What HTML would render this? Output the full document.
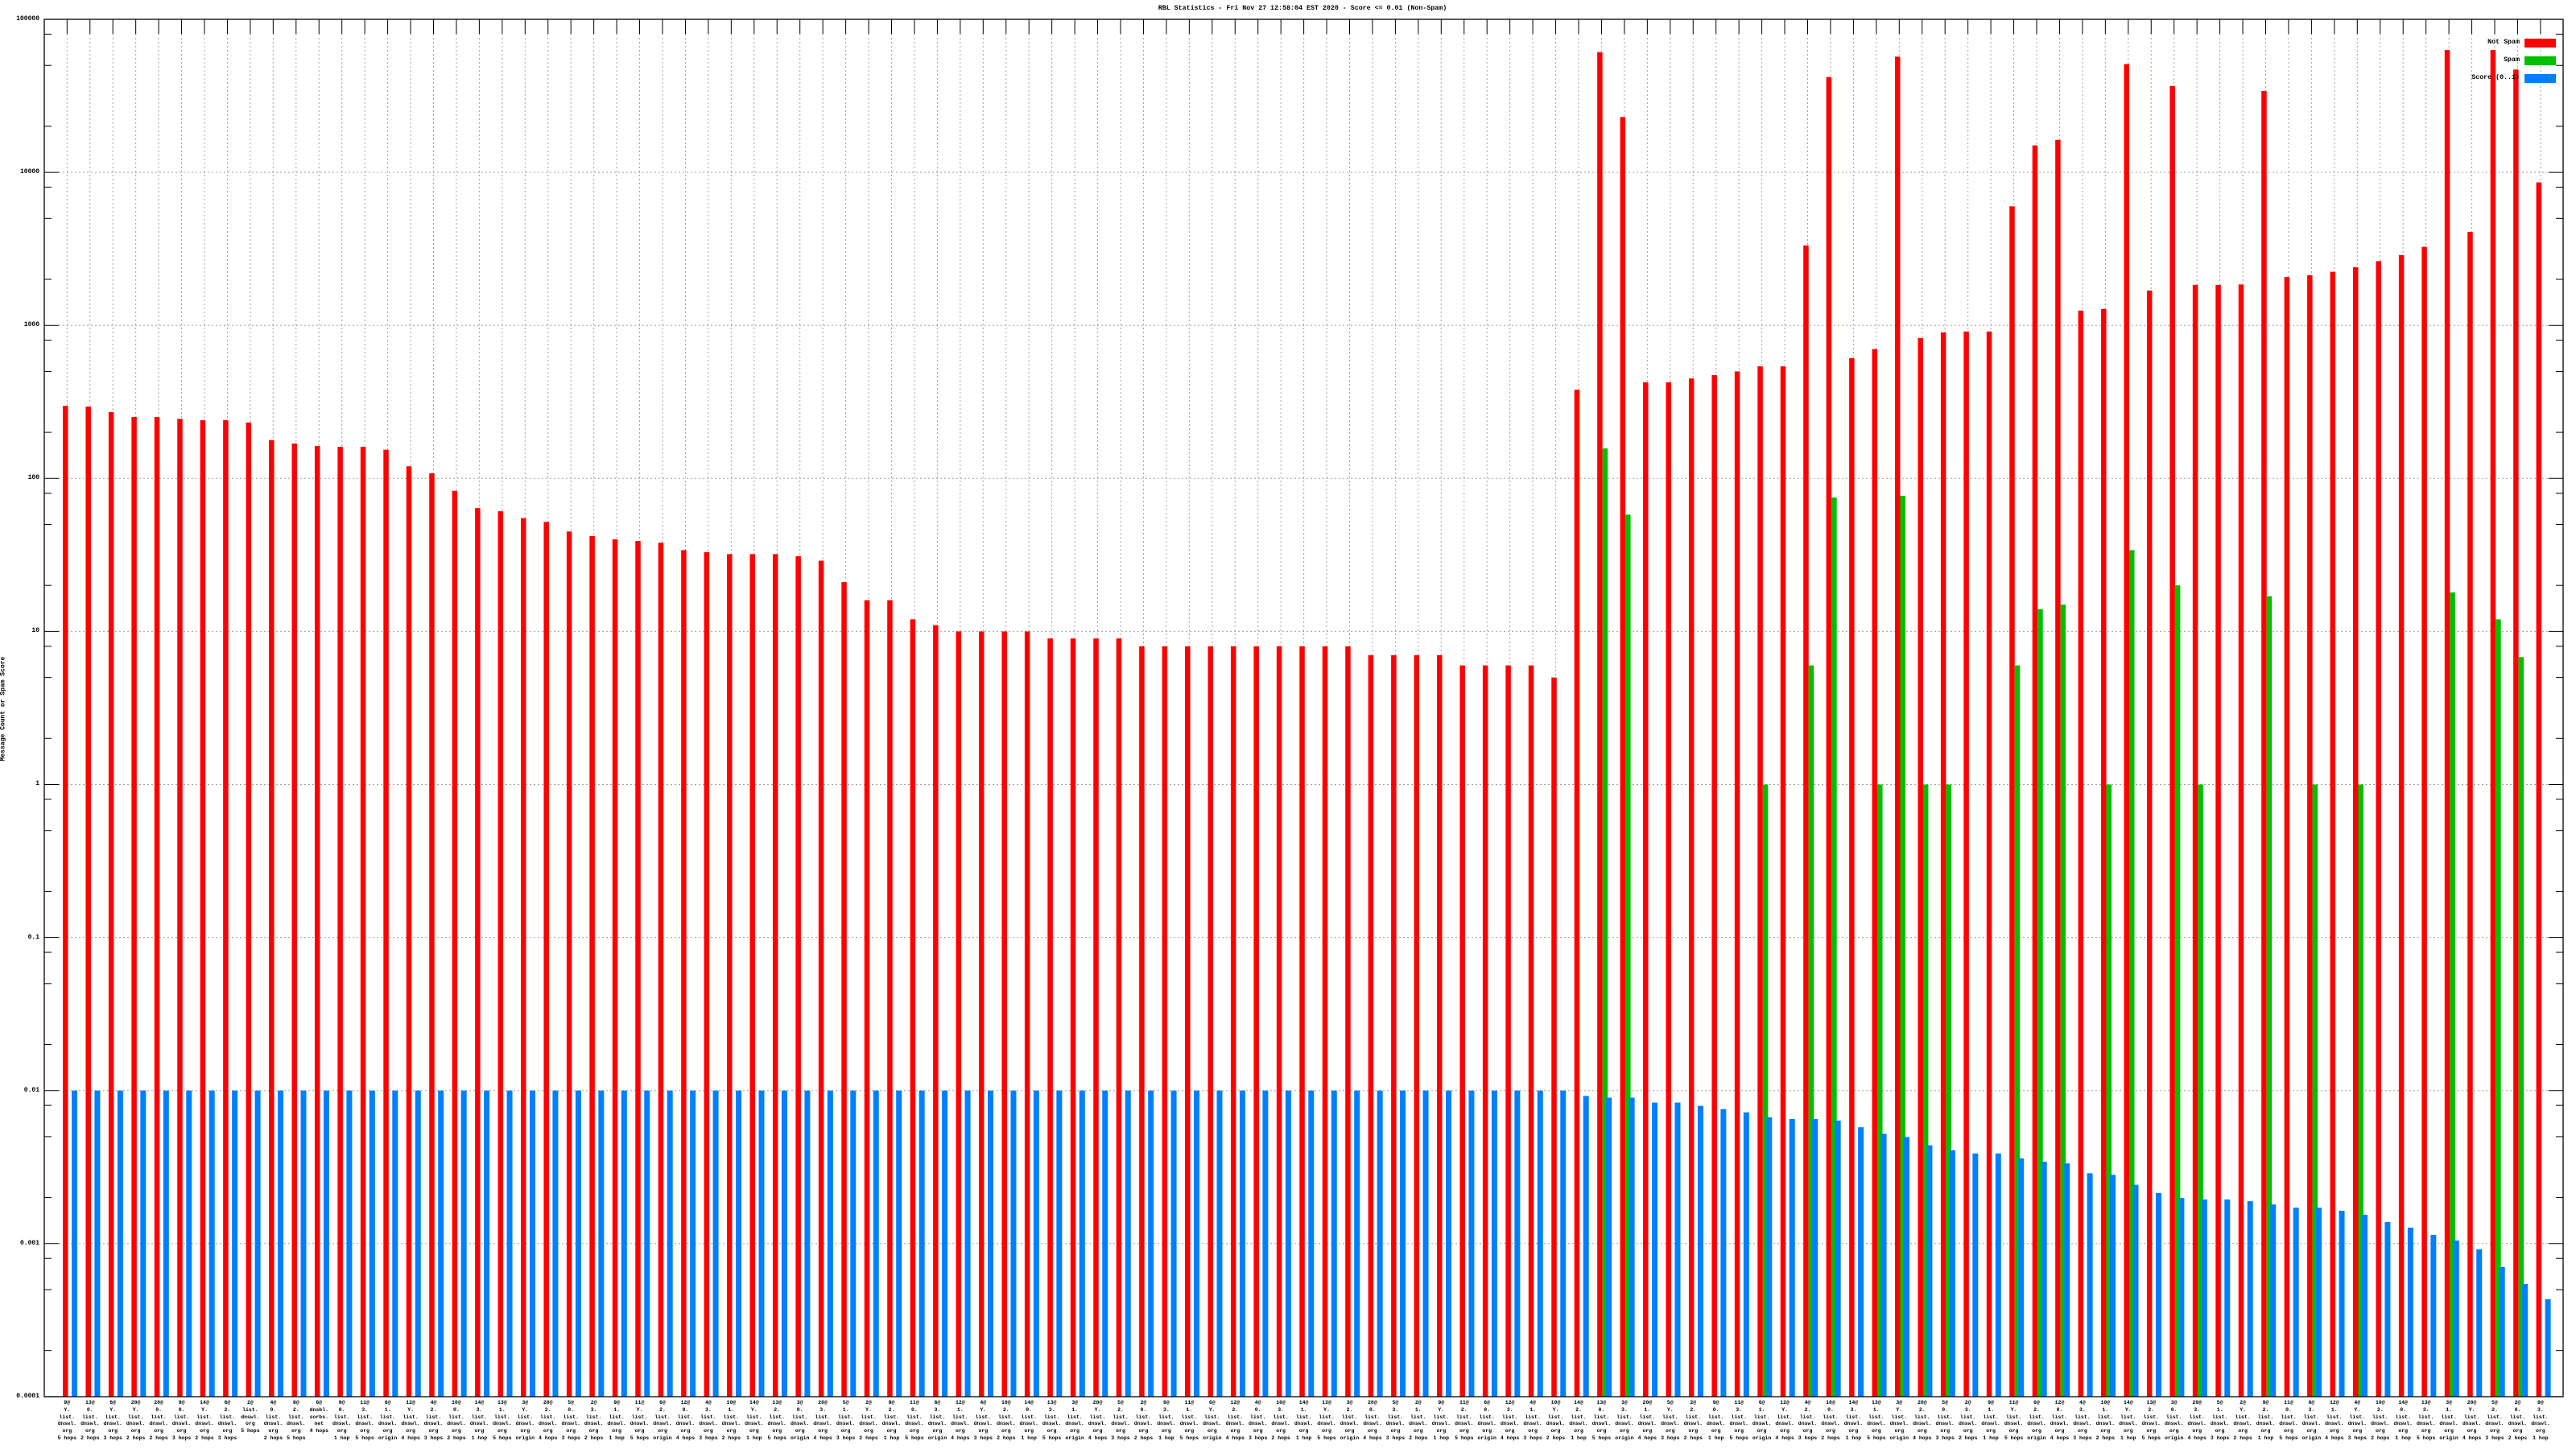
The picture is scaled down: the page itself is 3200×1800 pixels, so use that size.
<!DOCTYPE html>
<html><head><meta charset="utf-8">
<style>
html,body{margin:0;padding:0;background:#fff;}
#wrap{position:relative;width:3200px;height:1800px;overflow:hidden;background:#fff;font-family:"Liberation Mono",monospace;}
svg{position:absolute;left:0;top:0;}
.t{position:absolute;color:#000;white-space:pre;}
#title{left:1418px;top:6px;width:400px;text-align:center;font-size:8.3px;font-weight:bold;}
.yl{right:3151px;font-size:8px;font-weight:bold;text-align:right;}
#ylab{left:-96px;top:876px;width:200px;text-align:center;font-size:8px;font-weight:bold;transform:rotate(-90deg);}
.lg{font-size:8.3px;font-weight:bold;text-align:right;right:70px;}
#labels div{position:absolute;top:1739px;width:40px;text-align:center;font-size:6.5px;font-weight:bold;line-height:8.8px;white-space:pre;}
</style></head><body>
<div id="wrap">
<svg id="s" width="3200" height="1800" xmlns="http://www.w3.org/2000/svg"></svg>
<div class="t" id="title">RBL Statistics - Fri Nov 27 12:58:04 EST 2020 - Score &lt;= 0.01 (Non-Spam)</div>
<div class="t" id="ylab">Message Count or Spam Score</div>
<div class="t yl" style="top:19px">100000</div>
<div class="t yl" style="top:209px">10000</div>
<div class="t yl" style="top:399px">1000</div>
<div class="t yl" style="top:589px">100</div>
<div class="t yl" style="top:779px">10</div>
<div class="t yl" style="top:969px">1</div>
<div class="t yl" style="top:1160px">0.1</div>
<div class="t yl" style="top:1350px">0.01</div>
<div class="t yl" style="top:1540px">0.001</div>
<div class="t yl" style="top:1730px">0.0001</div>
<div class="t lg" style="top:48px">Not Spam</div>
<div class="t lg" style="top:70px">Spam</div>
<div class="t lg" style="top:92px">Score (0..1)</div>
<div id="labels"></div>
</div>
<script>
(function(){
var NS="http://www.w3.org/2000/svg",s=document.getElementById('s');
function el(t,a){var e=document.createElementNS(NS,t);for(var k in a)e.setAttribute(k,a[k]);s.appendChild(e);return e;}
var L=55,T=24,R=3184,B=1735,D=190.1;
function Y(v){return T+(5-Math.log10(v))*D;}
var N=109,SP=28.45;
function tx(i){return 83.3+SP*i;}
// grid
for(var d=1;d<9;d++){var y=T+d*D;el('line',{x1:73,y1:y,x2:3166,y2:y,stroke:'#a0a0a0','stroke-width':1,'stroke-dasharray':'2,3'});}
for(var i=0;i<N;i++){var x=tx(i);el('line',{x1:x,y1:42,x2:x,y2:B,stroke:'#a0a0a0','stroke-width':1,'stroke-dasharray':'2,3'});}
var red=[298,295,271,252,252,245,240,240,232,178,169,163,161,161,154,120,108,83,64,61,55,52,45,42,40,39,38,34,33,32,32,32,31,29,21,16,16,12,11,10,10,10,10,9,9,9,9,8,8,8,8,8,8,8,8,8,8,7,7,7,7,6,6,6,6,5,
380,61000,23000,425,425,450,473,500,540,540,3330,42000,610,700,57000,826,900,912,912,6000,15000,16300,1250,1280,51000,1690,36700,1840,1840,1850,34000,2070,2130,2240,2400,2630,2880,3260,63000,4080,63000,47000,8600];
var green={67:157,68:58,74:1,76:6,77:75,79:1,80:77,81:1,82:1,85:6,86:14,87:15,89:1,90:34,92:20,93:1,96:17,98:1,100:1,104:18,106:12,107:6.8};
var bt=[667,668,668,671,671,673,675,677,680,681,681,682,686,690,692,697,700,702,702,705,707,708,714,715,721,726,729,730,730,731,733,735,735];
var bf=[1504,1509,1518,1525,1534,1541,1552,1574,1595,1614];
for(var i=0;i<N;i++){
 var rx=78+SP*i,y=Y(red[i]);
 el('rect',{x:rx,y:y,width:6.5,height:B-y,fill:'#ff0000'});
 if(green[i]!==undefined){var gy=Y(green[i]);el('rect',{x:rx+6.5,y:gy,width:6.5,height:B-gy,fill:'#00c000'});}
 var by;
 if(i<66)by=Y(0.01);else if(i<99)by=T+(bt[i-66]-12)/93.1*D;else by=bf[i-99];
 el('rect',{x:rx+11,y:by,width:7,height:B-by,fill:'#0080ff'});
}
// ticks
for(var d=0;d<=9;d++){var y=T+d*D;el('line',{x1:L,y1:y,x2:L+18,y2:y,stroke:'#000'});el('line',{x1:R-18,y1:y,x2:R,y2:y,stroke:'#000'});
 if(d<9)[2,5,8].forEach(function(m){var yy=T+(d+1-Math.log10(m))*D;el('line',{x1:L,y1:yy,x2:L+9,y2:yy,stroke:'#000'});el('line',{x1:R-9,y1:yy,x2:R,y2:yy,stroke:'#000'});});}
for(var i=0;i<N;i++){var x=tx(i);el('line',{x1:x,y1:T,x2:x,y2:T+18,stroke:'#000'});}
el('rect',{x:L,y:T,width:R-L,height:B-T,fill:'none',stroke:'#000','stroke-width':1.3});
// legend boxes
el('rect',{x:3136,y:48,width:39,height:11,fill:'#ff0000'});
el('rect',{x:3136,y:70,width:39,height:11,fill:'#00c000'});
el('rect',{x:3136,y:92,width:39,height:11,fill:'#0080ff'});
})();
</script>
<script>
(function(){
var c=document.getElementById('labels');
var raw=["9@|Y.|list.|dnswl.|org|5 hops","13@|0.|list.|dnswl.|org|2 hops","6@|Y.|list.|dnswl.|org|3 hops","20@|Y.|list.|dnswl.|org|2 hops","20@|0.|list.|dnswl.|org|2 hops","9@|0.|list.|dnswl.|org|3 hops","14@|Y.|list.|dnswl.|org|2 hops","6@|2.|list.|dnswl.|org|3 hops","2@|list.|dnswl.|org|5 hops|","4@|0.|list.|dnswl.|org|2 hops","9@|2.|list.|dnswl.|org|5 hops","6@|dnsbl.|sorbs.|net|4 hops|"];
var n=["9@","13@","6@","20@","4@","2@","14@","11@","3@","12@","5@","10@"],s2=["Y.","0.","1.","2.","3."],h=["1 hop","2 hops","3 hops","4 hops","origin","5 hops"];
var html="";
for(var i=0;i<109;i++){
 var t;
 if(i<raw.length)t=raw[i];else t=n[(i*7)%12]+"|"+s2[(i*3)%5]+"|list.|dnswl.|org|"+h[(i*5)%6];
 var x=83.3+28.45*i-20;
 html+='<div style="left:'+x.toFixed(1)+'px">'+t.split("|").join("\n")+'</div>';
}
c.innerHTML=html;
})();
</script>
</body></html>
